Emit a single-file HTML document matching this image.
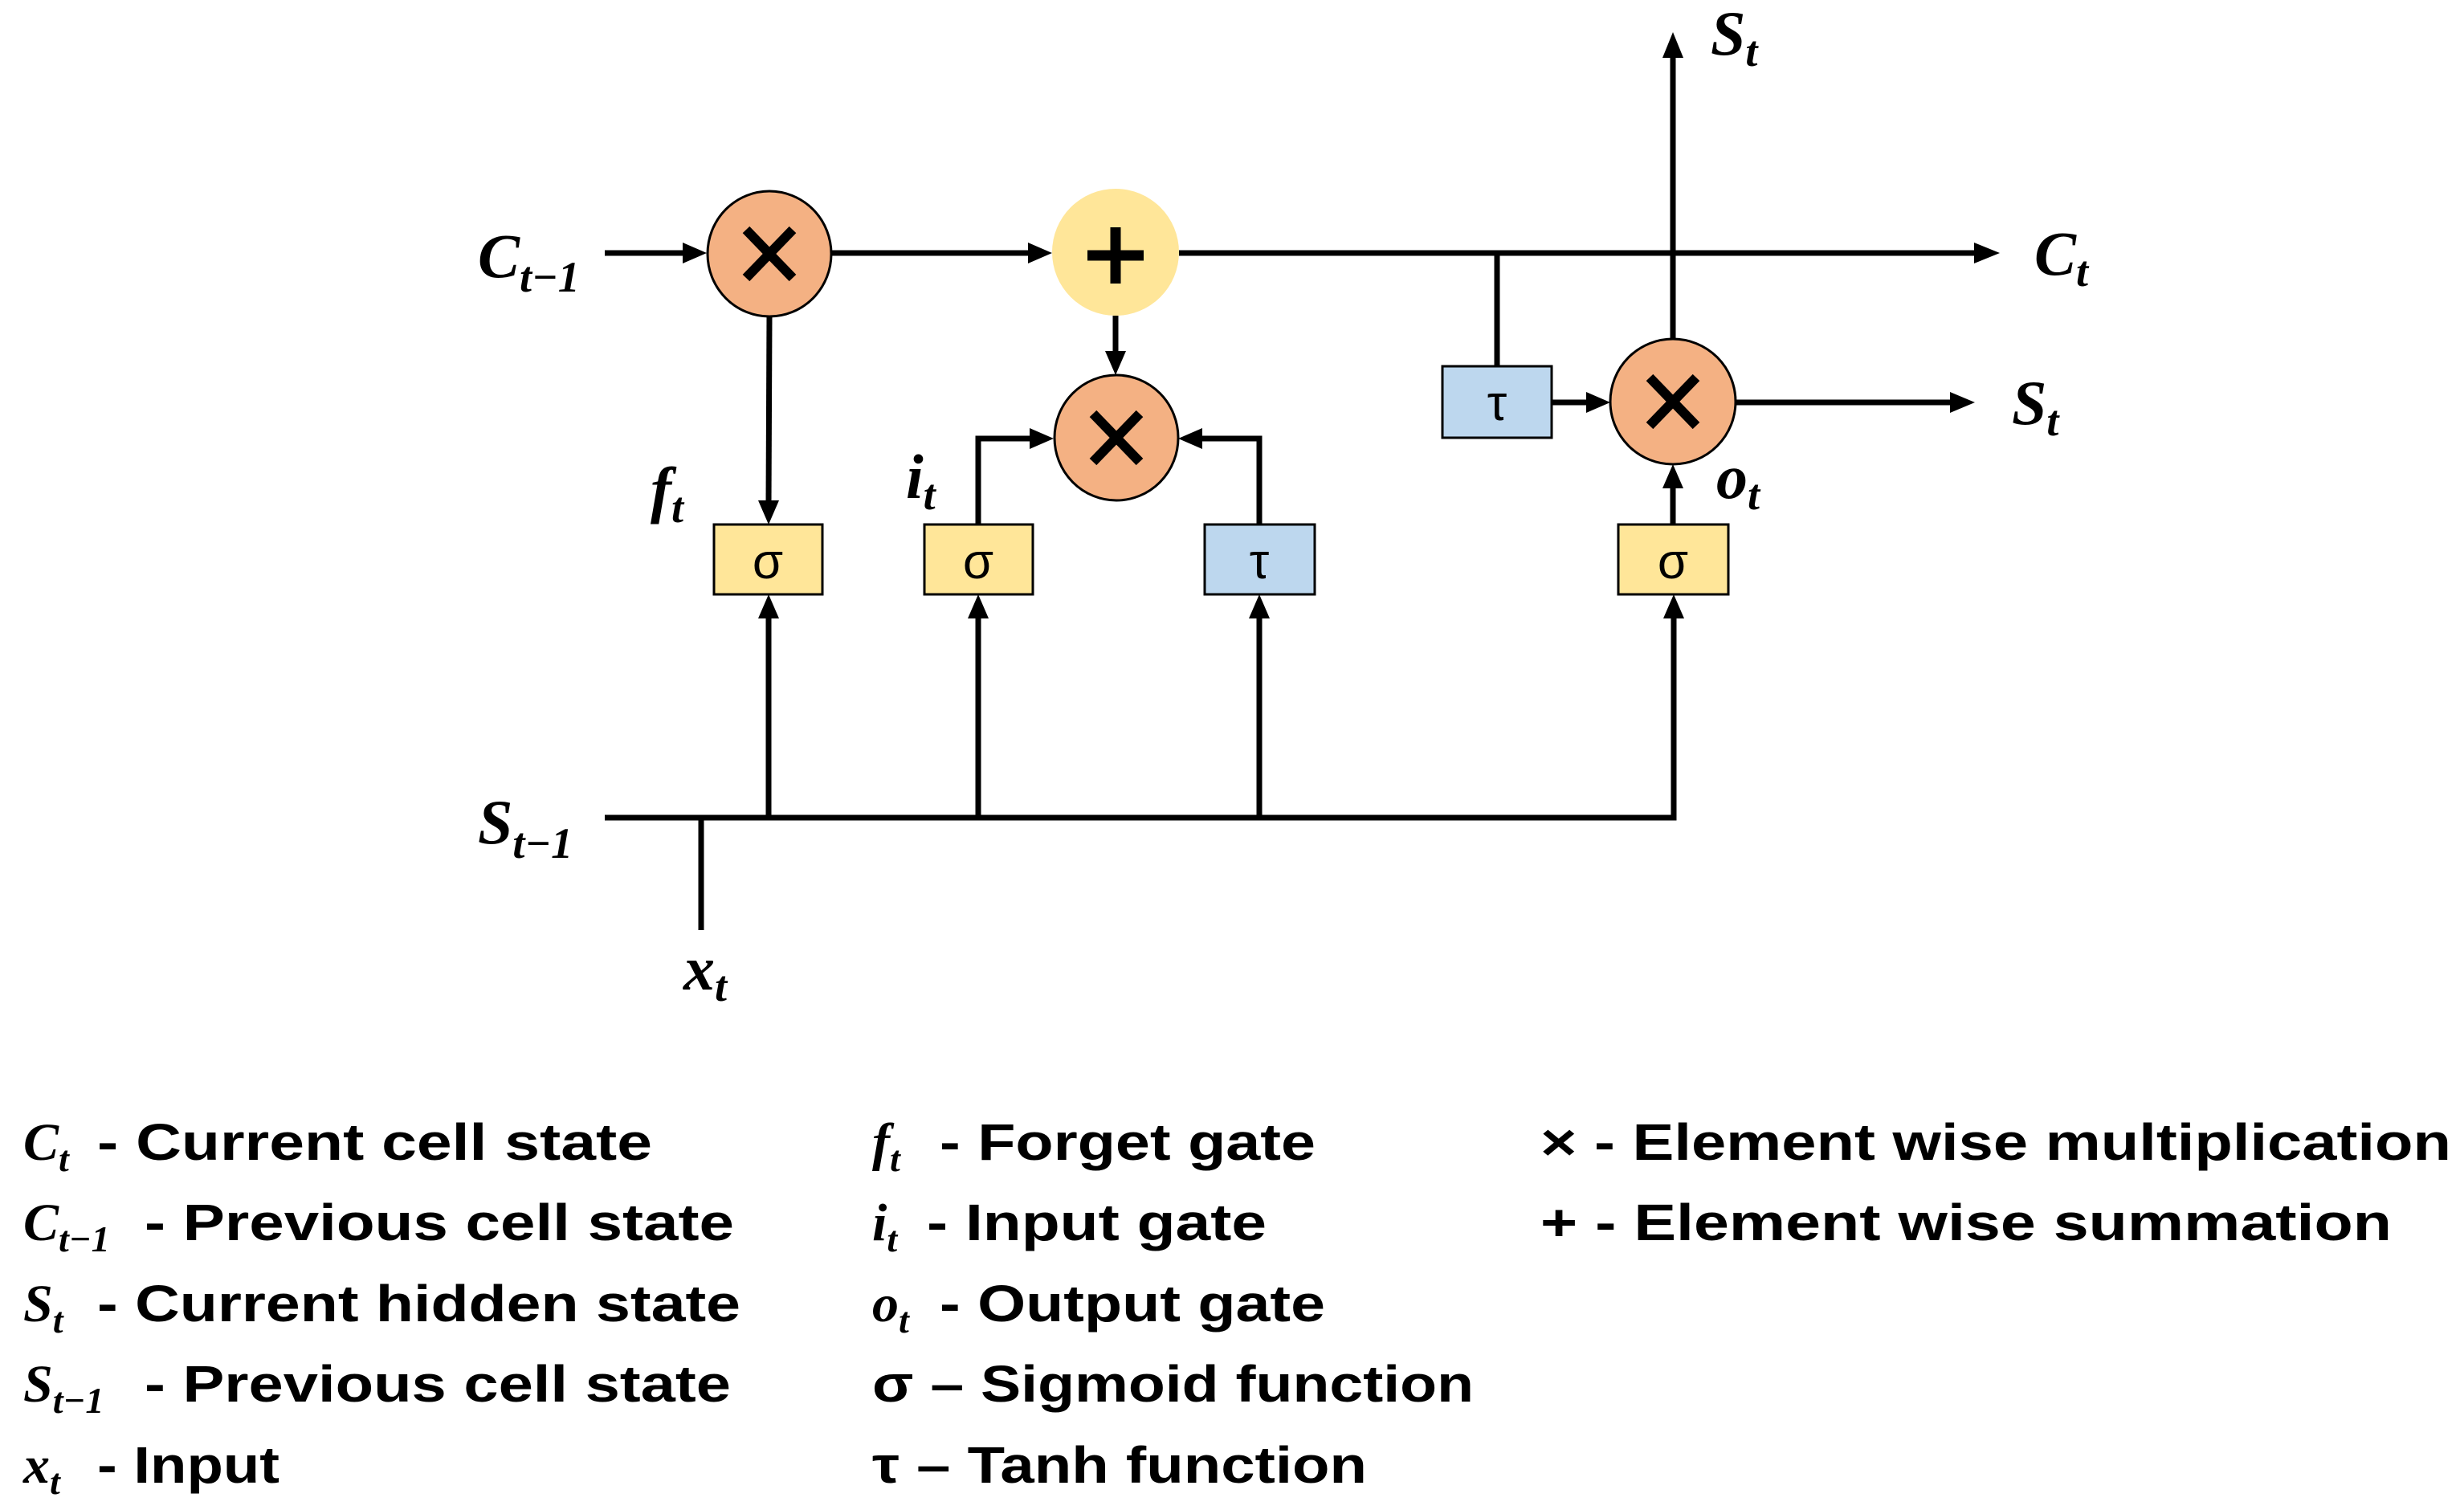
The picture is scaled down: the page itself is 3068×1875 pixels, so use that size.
<!DOCTYPE html>
<html><head><meta charset="utf-8"><style>
html,body{margin:0;padding:0;background:#fff;}
svg{display:block;}
.m{font-family:"Liberation Serif",serif;font-style:italic;font-weight:bold;}
.l{font-family:"Liberation Sans",sans-serif;font-weight:bold;font-size:64px;}
.b{font-family:"Liberation Sans",sans-serif;font-size:62px;}
</style></head><body>
<svg width="3068" height="1875" viewBox="0 0 3068 1875" xmlns="http://www.w3.org/2000/svg">
<g stroke="#000" stroke-width="7" fill="none">
<line x1="753" y1="315" x2="852" y2="315"/>
<line x1="1036" y1="315" x2="1282" y2="315"/>
<line x1="1468" y1="315" x2="2460" y2="315"/>
<line x1="958" y1="394" x2="957" y2="625"/>
<line x1="1389" y1="393" x2="1389" y2="440"/>
<polyline points="1218,653 1218,546 1285,546"/>
<polyline points="1568,653 1568,546 1495,546"/>
<line x1="1864" y1="315" x2="1864" y2="456"/>
<line x1="1932" y1="501" x2="1978" y2="501"/>
<line x1="2083" y1="422" x2="2083" y2="70"/>
<line x1="2160" y1="501" x2="2430" y2="501"/>
<line x1="2083" y1="653" x2="2083" y2="605"/>
<polyline points="753,1018 2084,1018 2084,768"/>
<line x1="957" y1="1018" x2="957" y2="768"/>
<line x1="1218" y1="1018" x2="1218" y2="768"/>
<line x1="1568" y1="1018" x2="1568" y2="768"/>
<line x1="873" y1="1018" x2="873" y2="1158"/>
</g>
<g fill="#000">
<polygon points="880,315 850,302 850,328"/>
<polygon points="1310,315 1280,302 1280,328"/>
<polygon points="2490,315 2458,302 2458,328"/>
<polygon points="957,653 944,623 970,623"/>
<polygon points="1389,467 1376,437 1402,437"/>
<polygon points="1312,546 1282,533 1282,559"/>
<polygon points="1467,546 1497,533 1497,559"/>
<polygon points="2005,501 1975,488 1975,514"/>
<polygon points="2083,40 2070,72 2096,72"/>
<polygon points="2459,501 2428,488 2428,514"/>
<polygon points="2083,578 2070,608 2096,608"/>
<polygon points="957,740 944,770 970,770"/>
<polygon points="1218,740 1205,770 1231,770"/>
<polygon points="1568,740 1555,770 1581,770"/>
<polygon points="2084,740 2071,770 2097,770"/>
</g>
<ellipse cx="958" cy="316" rx="77" ry="78" fill="#F4B183" stroke="#000" stroke-width="3"/>
<ellipse cx="1389" cy="314" rx="79" ry="79" fill="#FFE699"/>
<ellipse cx="1390" cy="545" rx="77" ry="78" fill="#F4B183" stroke="#000" stroke-width="3"/>
<ellipse cx="2083" cy="500" rx="78" ry="78" fill="#F4B183" stroke="#000" stroke-width="3"/>
<g stroke="#000" stroke-width="12">
<line x1="929" y1="286" x2="987" y2="346"/><line x1="987" y1="286" x2="929" y2="346"/>
<line x1="1361" y1="515" x2="1419" y2="575"/><line x1="1419" y1="515" x2="1361" y2="575"/>
<line x1="2054" y1="470" x2="2112" y2="530"/><line x1="2112" y1="470" x2="2054" y2="530"/>
</g>
<g stroke="#000" stroke-width="13">
<line x1="1354" y1="318" x2="1424" y2="318"/><line x1="1389" y1="283" x2="1389" y2="353"/>
</g>
<g stroke="#000" stroke-width="3">
<rect x="889" y="653" width="135" height="87" fill="#FFE699"/>
<rect x="1151" y="653" width="135" height="87" fill="#FFE699"/>
<rect x="1500" y="653" width="137" height="87" fill="#BDD7EE"/>
<rect x="1796" y="456" width="136" height="89" fill="#BDD7EE"/>
<rect x="2015" y="653" width="137" height="87" fill="#FFE699"/>
</g>
<g class="b" text-anchor="middle">
<text x="956" y="720">σ</text>
<text x="1218" y="720">σ</text>
<text x="1568" y="720">τ</text>
<text x="1864" y="523">τ</text>
<text x="2083" y="720">σ</text>
</g>
<g class="m">
<text x="595" y="345" font-size="78">C<tspan font-size="54" dy="18">t−1</tspan></text>
<text x="2130" y="68" font-size="78">S<tspan font-size="54" dy="14">t</tspan></text>
<text x="2533" y="342" font-size="78">C<tspan font-size="54" dy="14">t</tspan></text>
<text x="2505" y="528" font-size="78">S<tspan font-size="54" dy="14">t</tspan></text>
<text x="2137" y="620" font-size="78">o<tspan font-size="54" dy="14">t</tspan></text>
<text x="810" y="636" font-size="78">f<tspan font-size="54" dy="14">t</tspan></text>
<text x="1128" y="620" font-size="78">i<tspan font-size="54" dy="14">t</tspan></text>
<text x="595" y="1050" font-size="78">S<tspan font-size="54" dy="18">t−1</tspan></text>
<text x="851" y="1232" font-size="78">x<tspan font-size="54" dy="14">t</tspan></text>
</g>
<g class="m" font-size="66" font-weight="normal">
<text x="29" y="1444">C<tspan font-size="46" dy="14">t</tspan></text>
<text x="29" y="1544">C<tspan font-size="46" dy="14">t−1</tspan></text>
<text x="29" y="1645">S<tspan font-size="46" dy="14">t</tspan></text>
<text x="29" y="1745">S<tspan font-size="46" dy="14">t−1</tspan></text>
<text x="29" y="1846">x<tspan font-size="46" dy="14">t</tspan></text>
<text x="1086" y="1444">f<tspan font-size="46" dy="14">t</tspan></text>
<text x="1086" y="1544">i<tspan font-size="46" dy="14">t</tspan></text>
<text x="1086" y="1645">o<tspan font-size="46" dy="14">t</tspan></text>
</g>
<g class="l">
<text x="121" y="1444" textLength="691" lengthAdjust="spacingAndGlyphs">- Current cell state</text>
<text x="180" y="1544" textLength="734" lengthAdjust="spacingAndGlyphs">- Previous cell state</text>
<text x="121" y="1645" textLength="801" lengthAdjust="spacingAndGlyphs">- Current hidden state</text>
<text x="180" y="1745" textLength="730" lengthAdjust="spacingAndGlyphs">- Previous cell state</text>
<text x="121" y="1846" textLength="227" lengthAdjust="spacingAndGlyphs">- Input</text>
<text x="1170" y="1444" textLength="468" lengthAdjust="spacingAndGlyphs">- Forget gate</text>
<text x="1154" y="1544" textLength="423" lengthAdjust="spacingAndGlyphs">- Input gate</text>
<text x="1170" y="1645" textLength="480" lengthAdjust="spacingAndGlyphs">- Output gate</text>
<text x="1086" y="1745" textLength="749" lengthAdjust="spacingAndGlyphs">σ – Sigmoid function</text>
<text x="1086" y="1846" textLength="616" lengthAdjust="spacingAndGlyphs">τ – Tanh function</text>
<text x="1918" y="1444" textLength="1134" lengthAdjust="spacingAndGlyphs">× - Element wise multiplication</text>
<text x="1918" y="1544" textLength="1060" lengthAdjust="spacingAndGlyphs">+  - Element wise summation</text>
</g>
</svg>
</body></html>
